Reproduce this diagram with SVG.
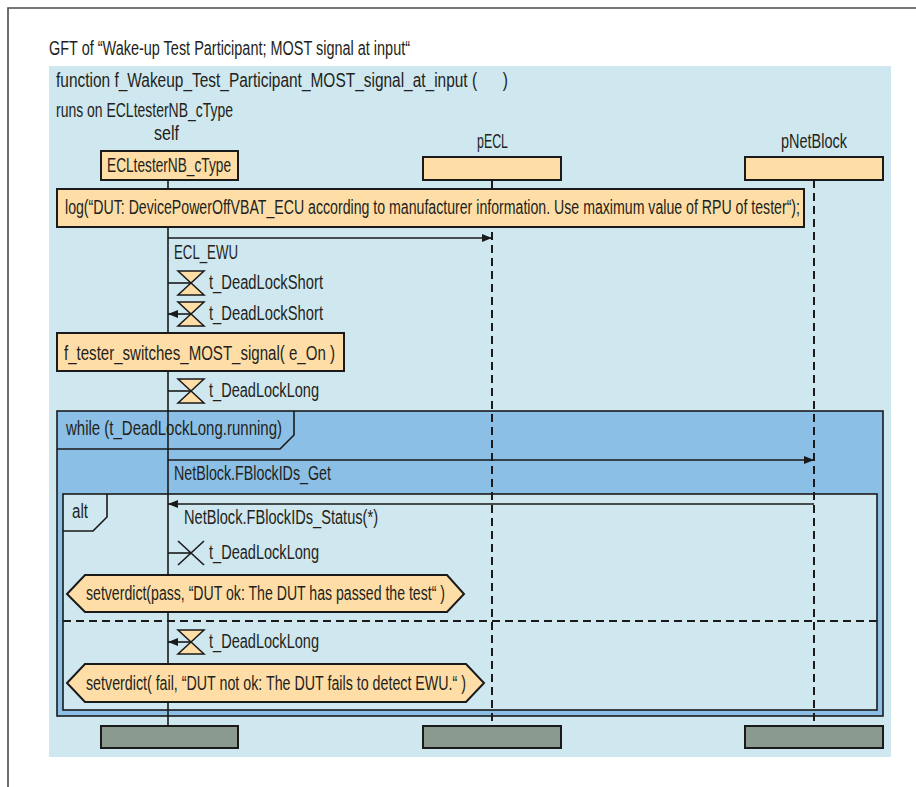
<svg xmlns="http://www.w3.org/2000/svg" width="916" height="787" viewBox="0 0 916 787">
<style>
text{font-family:"Liberation Sans Narrow","Liberation Sans",Arial,sans-serif;font-size:20px;fill:#231f20}
.box{fill:#fedea6;stroke:#1a1a1a;stroke-width:2}
.end{fill:#8a9a8e;stroke:#1a1a1a;stroke-width:2}
.msg{stroke:#1a1a1a;stroke-width:1.6;fill:none}
.dash{stroke:#1a1a1a;stroke-width:2;stroke-dasharray:8 5;fill:none}
.tri{fill:#fedea6;stroke:#1a1a1a;stroke-width:1.5}
</style>
<defs>
<marker id="ah" viewBox="0 0 10 10" refX="10" refY="5" markerWidth="10" markerHeight="10" markerUnits="userSpaceOnUse" orient="auto">
<path d="M0,1 L10,5 L0,9 Z" fill="#1a1a1a"/>
</marker>
<g id="hourglass">
<polygon class="tri" points="-13,-12 13,-12 0,0"/>
<polygon class="tri" points="0,0 -13,12 13,12"/>
</g>
</defs>
<!-- outer frame -->
<polyline points="8,787 8,8 916,8" fill="none" stroke="#4a4a4a" stroke-width="1.6"/>
<text x="49" y="55" textLength="361" lengthAdjust="spacingAndGlyphs">GFT of “Wake-up Test Participant; MOST signal at input“</text>
<rect x="49" y="66" width="842" height="691" fill="#cfe7ef"/>
<text x="56" y="87" xml:space="preserve" style="white-space:pre" textLength="452" lengthAdjust="spacingAndGlyphs">function f_Wakeup_Test_Participant_MOST_signal_at_input (      )</text>
<text x="56" y="117" textLength="177" lengthAdjust="spacingAndGlyphs">runs on ECLtesterNB_cType</text>

<!-- frames -->
<g id="while">
<rect x="57" y="411" width="826" height="305" fill="#8bbfe6" stroke="#1a1a1a" stroke-width="1.6"/>
<polyline points="57,449 280,449 294,435 294,411" fill="none" stroke="#1a1a1a" stroke-width="1.6"/>
<text x="66" y="435" textLength="216" lengthAdjust="spacingAndGlyphs">while (t_DeadLockLong.running)</text>
</g>
<g id="alt">
<rect x="63" y="494" width="814" height="216" fill="#cfe7ef" stroke="#1a1a1a" stroke-width="1.6"/>
<polyline points="63,531 93,531 107,517 107,494" fill="none" stroke="#1a1a1a" stroke-width="1.6"/>
<text x="72" y="518" textLength="16" lengthAdjust="spacingAndGlyphs">alt</text>
<line class="dash" x1="63" y1="621" x2="877" y2="621"/>
</g>

<!-- lifelines and connectors -->
<g id="connectors">
<line x1="168" y1="180" x2="168" y2="726" stroke="#1a1a1a" stroke-width="1.6"/>
<line class="dash" x1="492" y1="180" x2="492" y2="726"/>
<line class="dash" x1="814" y1="180" x2="814" y2="726"/>
<line class="msg" x1="168" y1="238" x2="492" y2="238" marker-end="url(#ah)"/>
<text x="174" y="259" textLength="64" lengthAdjust="spacingAndGlyphs">ECL_EWU</text>
<line class="msg" x1="168" y1="460" x2="814" y2="460" marker-end="url(#ah)"/>
<text x="174" y="480" textLength="157" lengthAdjust="spacingAndGlyphs">NetBlock.FBlockIDs_Get</text>
<line class="msg" x1="814" y1="504" x2="168" y2="504" marker-end="url(#ah)"/>
<text x="184" y="524" textLength="194" lengthAdjust="spacingAndGlyphs">NetBlock.FBlockIDs_Status(*)</text>
</g>

<!-- timers -->
<g id="timer1">
<line class="msg" x1="168" y1="283" x2="191" y2="283"/>
<use href="#hourglass" x="191" y="283"/>
<text x="209" y="289" textLength="114" lengthAdjust="spacingAndGlyphs">t_DeadLockShort</text>
</g>
<g id="timer2">
<use href="#hourglass" x="191" y="314"/>
<line class="msg" x1="191" y1="314" x2="168" y2="314" marker-end="url(#ah)"/>
<text x="209" y="320" textLength="114" lengthAdjust="spacingAndGlyphs">t_DeadLockShort</text>
</g>
<g id="timer3">
<line class="msg" x1="168" y1="391" x2="191" y2="391"/>
<use href="#hourglass" x="191" y="391"/>
<text x="209" y="397" textLength="110" lengthAdjust="spacingAndGlyphs">t_DeadLockLong</text>
</g>
<g id="timerstop">
<line class="msg" x1="168" y1="553" x2="191" y2="553"/>
<line class="msg" x1="178" y1="541" x2="204" y2="565"/>
<line class="msg" x1="204" y1="541" x2="178" y2="565"/>
<text x="209" y="559" textLength="110" lengthAdjust="spacingAndGlyphs">t_DeadLockLong</text>
</g>
<g id="timer4">
<use href="#hourglass" x="191" y="642"/>
<line class="msg" x1="191" y1="642" x2="168" y2="642" marker-end="url(#ah)"/>
<text x="209" y="648" textLength="110" lengthAdjust="spacingAndGlyphs">t_DeadLockLong</text>
</g>

<!-- instances -->
<g id="self">
<text x="154" y="140" textLength="25" lengthAdjust="spacingAndGlyphs">self</text>
<rect class="box" x="101" y="151" width="137" height="29"/>
<text x="107" y="172" textLength="124" lengthAdjust="spacingAndGlyphs">ECLtesterNB_cType</text>
</g>
<g id="pECL">
<text x="477" y="148" textLength="31" lengthAdjust="spacingAndGlyphs">pECL</text>
<rect class="box" x="423" y="157" width="138" height="23"/>
</g>
<g id="pNetBlock">
<text x="781" y="148" textLength="66" lengthAdjust="spacingAndGlyphs">pNetBlock</text>
<rect class="box" x="745" y="157" width="138" height="23"/>
</g>

<g id="log">
<rect class="box" x="57" y="189" width="747" height="38"/>
<text x="65" y="214" textLength="735" lengthAdjust="spacingAndGlyphs">log(“DUT: DevicePowerOffVBAT_ECU according to manufacturer information. Use maximum value of RPU of tester“);</text>
</g>
<g id="f_tester">
<rect class="box" x="57" y="333" width="287" height="38"/>
<text x="64" y="360" textLength="271" lengthAdjust="spacingAndGlyphs">f_tester_switches_MOST_signal( e_On )</text>
</g>
<g id="verdict_pass">
<polygon class="box" points="67,594 85,575 447,575 464,594 447,612 85,612"/>
<text x="86" y="600" textLength="359" lengthAdjust="spacingAndGlyphs">setverdict(pass, “DUT ok: The DUT has passed the test“ )</text>
</g>
<g id="verdict_fail">
<polygon class="box" points="67,683 85,664 466,664 484,683 466,702 85,702"/>
<text x="86" y="690" textLength="380" lengthAdjust="spacingAndGlyphs">setverdict( fail, “DUT not ok: The DUT fails to detect EWU.“ )</text>
</g>

<g id="ends">
<rect class="end" x="101" y="726" width="137" height="22"/>
<rect class="end" x="423" y="726" width="138" height="22"/>
<rect class="end" x="745" y="726" width="138" height="22"/>
</g>
</svg>
